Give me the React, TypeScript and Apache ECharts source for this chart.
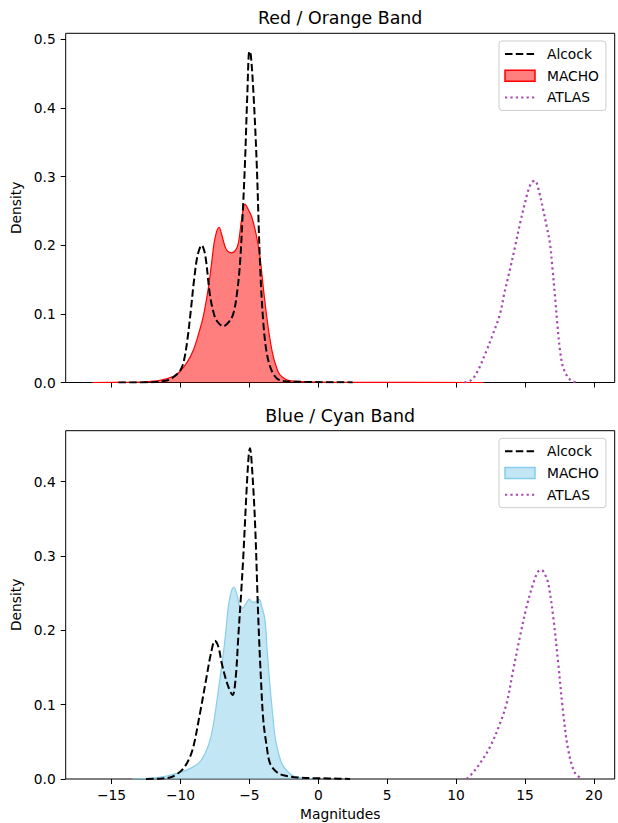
import React, { useEffect, useRef } from "react";
import * as echarts from "echarts";

const xTicks = [-15, -10, -5, 0, 5, 10, 15, 20];
const yTicksTop = [0, 0.1, 0.2, 0.3, 0.4, 0.5];
const yTicksBottom = [0, 0.1, 0.2, 0.3, 0.4];

const titles = ["Red / Orange Band", "Blue / Cyan Band"];
const seriesNames = ["Alcock", "MACHO", "ATLAS"];

// Red / Orange band densities [magnitude, density]
const alcockRed = [
  [-14.5, 0], [-12, 0.0005], [-11, 0.003], [-10.5, 0.008], [-10, 0.018], [-9.75, 0.032],
  [-9.5, 0.062], [-9.25, 0.105], [-9.0, 0.152], [-8.75, 0.186], [-8.46, 0.2], [-8.2, 0.185],
  [-7.86, 0.127], [-7.6, 0.102], [-7.37, 0.09], [-6.9, 0.082], [-6.5, 0.088], [-6.17, 0.1],
  [-5.9, 0.13], [-5.68, 0.174], [-5.5, 0.24], [-5.32, 0.32], [-5.15, 0.42], [-5.0, 0.483],
  [-4.9, 0.478], [-4.7, 0.42], [-4.47, 0.32], [-4.23, 0.174], [-4.0, 0.09], [-3.74, 0.043],
  [-3.4, 0.018], [-3.0, 0.006], [-2.5, 0.002], [-1.0, 0.001], [0.5, 0.0005], [2.0, 0.0003],
  [2.5, 0],
];
const machoRed = [
  [-16.4, 0], [-14, 0.0003], [-12.5, 0.001], [-11.5, 0.003], [-10.5, 0.009], [-10.04, 0.016],
  [-9.5, 0.03], [-9.07, 0.047], [-8.7, 0.07], [-8.35, 0.096], [-8.0, 0.135], [-7.74, 0.174],
  [-7.5, 0.21], [-7.2, 0.226], [-7.0, 0.215], [-6.7, 0.195], [-6.29, 0.189], [-6.0, 0.193],
  [-5.8, 0.203], [-5.55, 0.24], [-5.32, 0.26], [-5.1, 0.253], [-4.84, 0.242], [-4.5, 0.215],
  [-4.23, 0.183], [-4.0, 0.14], [-3.74, 0.096], [-3.5, 0.062], [-3.27, 0.038], [-3.0, 0.02],
  [-2.78, 0.011], [-2.3, 0.004], [-1.8, 0.002], [0, 0.0005], [3, 0.0002], [12, 0],
];
const atlasRed = [
  [10.6, 0], [11.13, 0.004], [11.6, 0.018], [12.22, 0.047], [12.7, 0.072], [13.19, 0.1],
  [13.5, 0.13], [13.9, 0.164], [14.3, 0.2], [14.64, 0.232], [15.0, 0.262], [15.24, 0.28],
  [15.5, 0.292], [15.73, 0.294], [16.0, 0.28], [16.33, 0.251], [16.6, 0.225], [16.81, 0.203],
  [17.0, 0.165], [17.18, 0.125], [17.35, 0.085], [17.54, 0.047], [17.8, 0.02], [18.27, 0.004],
  [18.7, 0],
];

// Blue / Cyan band densities [magnitude, density]
const alcockBlue = [
  [-12.5, 0], [-11.5, 0.0005], [-10.76, 0.002], [-10.3, 0.006], [-9.8, 0.014], [-9.4, 0.026],
  [-9.07, 0.043], [-8.59, 0.088], [-8.1, 0.138], [-7.8, 0.168], [-7.5, 0.186], [-7.25, 0.178],
  [-7.01, 0.156], [-6.6, 0.128], [-6.22, 0.113], [-6.0, 0.135], [-5.81, 0.19], [-5.6, 0.25],
  [-5.44, 0.3], [-5.2, 0.39], [-5.05, 0.435], [-4.96, 0.445], [-4.85, 0.43], [-4.6, 0.349],
  [-4.35, 0.214], [-4.15, 0.13], [-3.99, 0.079], [-3.75, 0.045], [-3.5, 0.021], [-3.0, 0.009],
  [-2.53, 0.005], [-1.5, 0.002], [0, 0.001], [1.5, 0.0005], [2.3, 0],
];
const machoBlue = [
  [-13.5, 0], [-12.2, 0.001], [-11, 0.004], [-10.2, 0.008], [-9.55, 0.012], [-9.0, 0.017],
  [-8.59, 0.023], [-8.2, 0.035], [-7.86, 0.052], [-7.6, 0.075], [-7.38, 0.102], [-7.1, 0.14],
  [-6.89, 0.169], [-6.7, 0.2], [-6.53, 0.232], [-6.3, 0.253], [-6.12, 0.258], [-5.9, 0.248],
  [-5.7, 0.232], [-5.51, 0.23], [-5.25, 0.236], [-5.0, 0.242], [-4.8, 0.238], [-4.6, 0.238],
  [-4.3, 0.242], [-4.1, 0.232], [-3.87, 0.214], [-3.7, 0.17], [-3.5, 0.124], [-3.3, 0.085],
  [-3.14, 0.057], [-2.85, 0.032], [-2.54, 0.017], [-2.1, 0.008], [-1.8, 0.004], [-1.0, 0.001],
  [0, 0],
];
const atlasBlue = [
  [10.77, 0], [11.2, 0.008], [11.73, 0.021], [12.46, 0.043], [13.19, 0.075], [13.67, 0.102],
  [14.15, 0.147], [14.64, 0.192], [15.12, 0.232], [15.6, 0.263], [15.95, 0.279], [16.21, 0.281],
  [16.45, 0.275], [16.69, 0.263], [17.05, 0.218], [17.41, 0.156], [17.78, 0.088], [18.14, 0.039],
  [18.63, 0.008], [19.2, 0],
];

const FONT = "DejaVu Sans";
const TICK_FS = 13.8;
const TITLE_FS = 17.4;

export default function App() {
  const ref = useRef<HTMLDivElement>(null);

  useEffect(() => {
    if (!ref.current) return;
    const chart = echarts.init(ref.current, null, { renderer: "svg" });

    const gridLeft = 65.7;
    const gridWidth = 549;
    const grids = [
      { left: gridLeft, top: 33.3, width: gridWidth, height: 349.2 },
      { left: gridLeft, top: 430.7, width: gridWidth, height: 348.3 },
    ];
    const yMax = [0.509, 0.4686];
    const centerX = gridLeft + gridWidth / 2;

    const makeX = (i: number) => ({
      type: "value",
      gridIndex: i,
      min: -18.33,
      max: 21.51,
      axisLine: { show: false, onZero: false },
      splitLine: { show: false },
      axisTick: {
        show: true,
        customValues: xTicks,
        length: 5,
        lineStyle: { color: "#000", width: 1 },
      },
      axisLabel: {
        show: i === 1,
        customValues: xTicks,
        fontFamily: FONT,
        fontSize: TICK_FS,
        color: "#000",
        margin: 9,
        formatter: (v: number) => (v < 0 ? "\u2212" + Math.abs(v) : String(v)),
      },
      name: i === 1 ? "Magnitudes" : "",
      nameLocation: "middle",
      nameGap: 28,
      nameTextStyle: { fontFamily: FONT, fontSize: TICK_FS, color: "#000" },
    });

    const makeY = (i: number) => ({
      type: "value",
      gridIndex: i,
      min: 0,
      max: yMax[i],
      axisLine: { show: false, onZero: false },
      splitLine: { show: false },
      axisTick: {
        show: true,
        customValues: i === 0 ? yTicksTop : yTicksBottom,
        length: 5,
        lineStyle: { color: "#000", width: 1 },
      },
      axisLabel: {
        customValues: i === 0 ? yTicksTop : yTicksBottom,
        fontFamily: FONT,
        fontSize: TICK_FS,
        color: "#000",
        margin: 10,
        formatter: (v: number) => v.toFixed(1),
      },
      name: "Density",
      nameLocation: "middle",
      nameGap: 40.7,
      nameTextStyle: { fontFamily: FONT, fontSize: TICK_FS, color: "#000" },
    });

    const machoFill = ["rgba(255,0,0,0.5)", "rgba(135,206,235,0.5)"];
    const machoEdge = ["#ff0000", "#87ceeb"];
    const atlasColor = "#a64aae";
    const alcockData = [alcockRed, alcockBlue];
    const machoData = [machoRed, machoBlue];
    const atlasData = [atlasRed, atlasBlue];

    const series: any[] = [];
    [0, 1].forEach((i) => {
      series.push({
        type: "line",
        name: seriesNames[1],
        xAxisIndex: i,
        yAxisIndex: i,
        data: machoData[i],
        smooth: 0.35,
        symbol: "none",
        z: 2,
        lineStyle: { color: machoEdge[i], width: 1.2 },
        itemStyle: { color: machoEdge[i] },
        areaStyle: { color: machoFill[i], opacity: 1 },
      });
      series.push({
        type: "line",
        name: seriesNames[0],
        xAxisIndex: i,
        yAxisIndex: i,
        data: alcockData[i],
        smooth: 0.35,
        symbol: "none",
        z: 4,
        lineStyle: { color: "#000", width: 2, type: [7.5, 3.3] },
        itemStyle: { color: "#000" },
      });
      series.push({
        type: "line",
        name: seriesNames[2],
        xAxisIndex: i,
        yAxisIndex: i,
        data: atlasData[i],
        smooth: 0.35,
        symbol: "none",
        z: 3,
        lineStyle: { color: atlasColor, width: 2.2, type: [2.2, 3.2] },
        itemStyle: { color: atlasColor },
      });
    });

    const legendTops = [41, 438.3];
    const legends = [0, 1].map((i) => ({
      orient: "vertical",
      left: 499,
      top: legendTops[i],
      padding: [6, 7, 6, 5],
      itemGap: 7.7,
      itemWidth: 30,
      itemHeight: 11,
      backgroundColor: "rgba(255,255,255,0.8)",
      borderColor: "#cccccc",
      borderWidth: 1,
      borderRadius: 3,
      selectedMode: false,
      textStyle: {
        fontFamily: FONT,
        fontSize: TICK_FS,
        color: "#000",
        padding: [0, 0, 0, 7],
      },
      data: [
        {
          name: seriesNames[0],
          itemStyle: { color: "rgba(0,0,0,0)", borderWidth: 0 },
        },
        {
          name: seriesNames[1],
          icon: "rect",
          itemStyle: { color: machoFill[i], borderColor: machoEdge[i], borderWidth: 1.5 },
        },
        {
          name: seriesNames[2],
          itemStyle: { color: "rgba(0,0,0,0)", borderWidth: 0 },
        },
      ],
    }));

    chart.setOption({
      animation: false,
      backgroundColor: "#fff",
      title: [
        {
          text: titles[0],
          left: centerX,
          top: 9.8,
          textAlign: "center",
          padding: 0,
          textStyle: { fontFamily: FONT, fontSize: TITLE_FS, fontWeight: "normal", color: "#000" },
        },
        {
          text: titles[1],
          left: centerX,
          top: 407.2,
          textAlign: "center",
          padding: 0,
          textStyle: { fontFamily: FONT, fontSize: TITLE_FS, fontWeight: "normal", color: "#000" },
        },
      ],
      grid: grids.map((g) => ({
        ...g,
        show: true,
        borderColor: "#000",
        borderWidth: 1,
        backgroundColor: "transparent",
        containLabel: false,
      })),
      xAxis: [makeX(0), makeX(1)],
      yAxis: [makeY(0), makeY(1)],
      legend: legends,
      series,
    });

    return () => {
      chart.dispose();
    };
  }, []);

  return (
    <div
      ref={ref}
      style={{ position: "absolute", left: 0, top: 0, width: 618, height: 823 }}
    />
  );
}
